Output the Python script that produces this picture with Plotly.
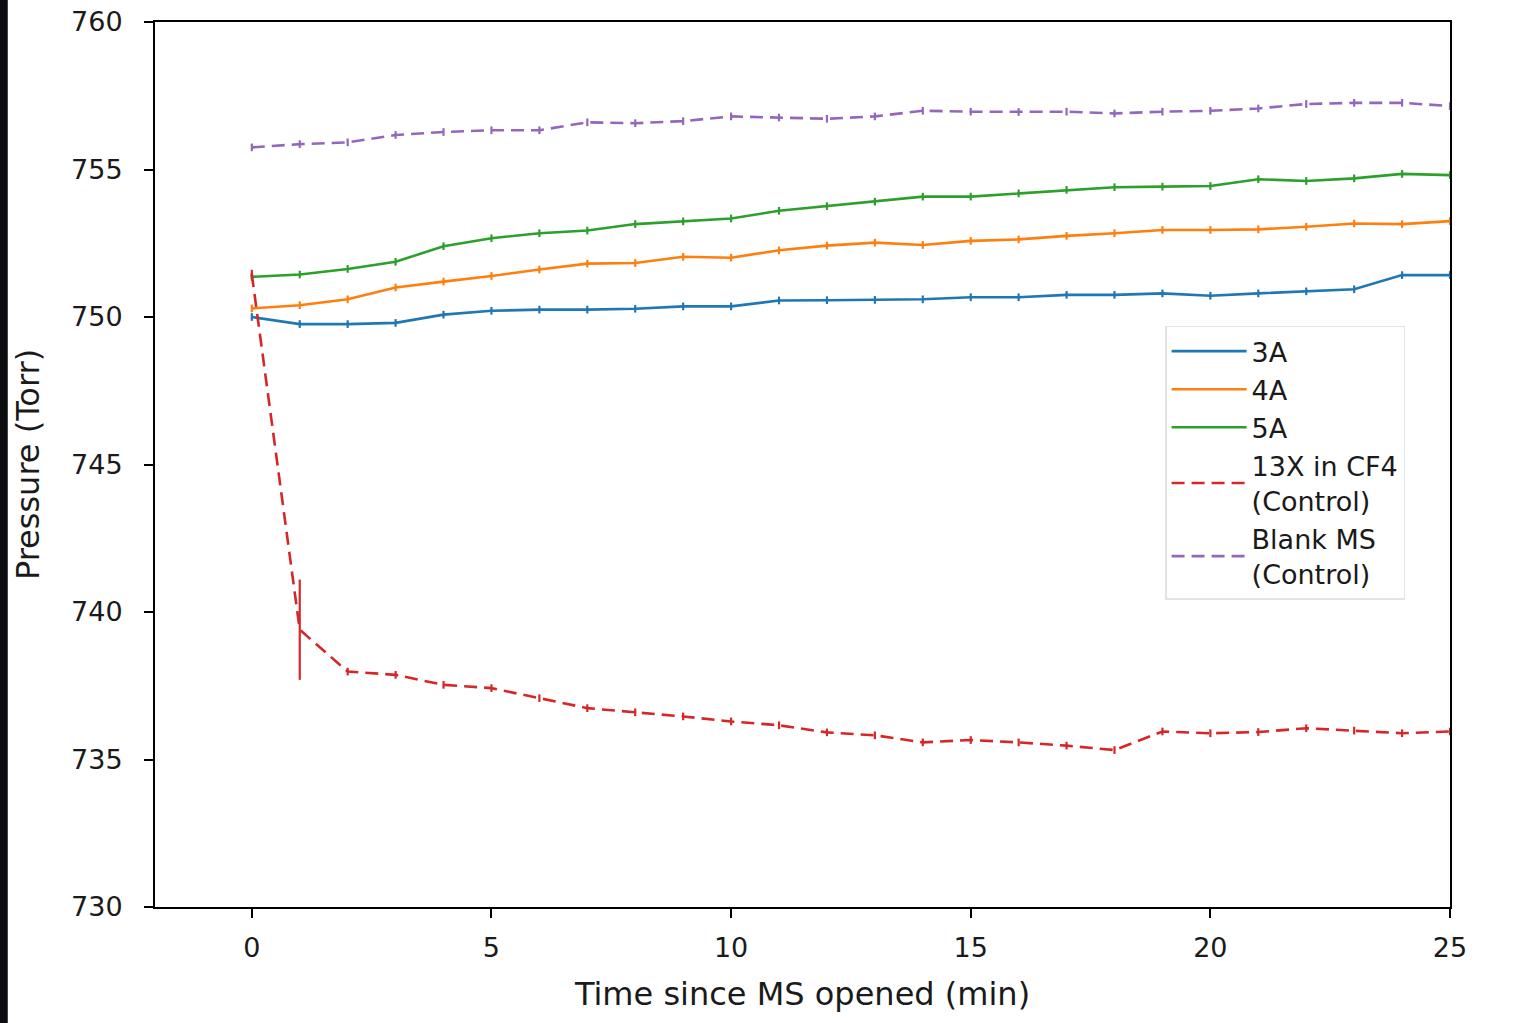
import plotly.graph_objects as go

time_min = list(range(26))

p_3a = [750.0, 749.76, 749.76, 749.8, 750.08, 750.21, 750.25, 750.25, 750.28, 750.36, 750.36, 750.56,
        750.57, 750.58, 750.6, 750.67, 750.67, 750.75, 750.75, 750.8, 750.72, 750.8, 750.87, 750.94,
        751.42, 751.42]
p_4a = [750.29, 750.4, 750.6, 751.0, 751.2, 751.39, 751.61, 751.81, 751.83, 752.04, 752.01, 752.26,
        752.42, 752.52, 752.44, 752.58, 752.63, 752.75, 752.84, 752.95, 752.95, 752.97, 753.06, 753.17,
        753.15, 753.25]
p_5a = [751.36, 751.44, 751.63, 751.87, 752.4, 752.67, 752.84, 752.93, 753.15, 753.24, 753.34, 753.6,
        753.76, 753.91, 754.08, 754.08, 754.19, 754.31, 754.4, 754.42, 754.44, 754.67, 754.61, 754.7,
        754.85, 754.81]
p_13x = [751.45, 739.4, 737.98, 737.87, 737.53, 737.42, 737.08, 736.74, 736.6, 736.46, 736.29, 736.16,
         735.92, 735.82, 735.58, 735.66, 735.58, 735.47, 735.32, 735.95, 735.89, 735.93, 736.06, 735.98,
         735.89, 735.95]
p_blank = [755.75, 755.86, 755.92, 756.17, 756.27, 756.33, 756.33, 756.6, 756.57, 756.64, 756.8, 756.76,
           756.72, 756.8, 756.99, 756.96, 756.95, 756.96, 756.9, 756.96, 756.99, 757.07, 757.22, 757.26,
           757.26, 757.15]

err_3a = [0.13] * 26
err_4a = [0.13] * 26
err_5a = [0.13] * 26
err_13x = [0.15, 1.7] + [0.13] * 24
err_blank = [0.13] * 26

labels = ["3A", "4A", "5A", "13X in CF4<br>(Control)", "Blank MS<br>(Control)"]
colors = ["#1f77b4", "#ff7f0e", "#2ca02c", "#d62728", "#9467bd"]
dashes = ["solid", "solid", "solid", "13px,7px", "13px,7px"]
series = [p_3a, p_4a, p_5a, p_13x, p_blank]
errors = [err_3a, err_4a, err_5a, err_13x, err_blank]

fig = go.Figure()
for lab, col, dsh, ys, es in zip(labels, colors, dashes, series, errors):
    fig.add_trace(go.Scatter(
        x=time_min, y=ys, name=lab, mode="lines",
        line=dict(color=col, width=2.6, dash=dsh),
        error_y=dict(type="data", array=es, visible=True, color=col, thickness=2.2, width=0),
    ))

fig.update_layout(
    width=1518, height=1023,
    margin=dict(l=155, r=68, t=22, b=116, autoexpand=False),
    paper_bgcolor="white", plot_bgcolor="white",
    font=dict(family="DejaVu Sans", size=27, color="#1a1a1a"),
    showlegend=True,
    legend=dict(
        x=0.78, y=0.657, xanchor="left", yanchor="top",
        bgcolor="rgba(255,255,255,0.85)", bordercolor="#e3e3e3", borderwidth=1.5,
        font=dict(size=27, family="DejaVu Sans", color="#1a1a1a"),
        tracegroupgap=0, itemwidth=75,
    ),
    xaxis=dict(
        range=[-2.02, 25], tickvals=[0, 5, 10, 15, 20, 25],
        showgrid=False, zeroline=False, automargin=False,
        showline=True, linecolor="black", linewidth=2, mirror=True,
        ticks="outside", ticklen=9, tickwidth=2, tickcolor="black",
        tickfont=dict(size=27), ticklabelstandoff=7,
        title=dict(text="Time since MS opened (min)", font=dict(size=32), standoff=20),
    ),
    yaxis=dict(
        range=[730, 760], tickvals=[730, 735, 740, 745, 750, 755, 760],
        showgrid=False, zeroline=False, automargin=False,
        showline=True, linecolor="black", linewidth=2, mirror=True,
        ticks="outside", ticklen=9, tickwidth=2, tickcolor="black",
        tickfont=dict(size=27), ticklabelstandoff=16,
        title=dict(text="Pressure (Torr)", font=dict(size=32), standoff=22),
    ),
    shapes=[dict(type="rect", xref="paper", yref="paper",
                 x0=-0.14, x1=-0.1137, y0=-0.2, y1=1.05,
                 fillcolor="#0b0d10", line=dict(width=0), layer="above")],
)

fig.write_html("out.html", post_script="document.body.style.margin='0';",
               config={"displayModeBar": False})
